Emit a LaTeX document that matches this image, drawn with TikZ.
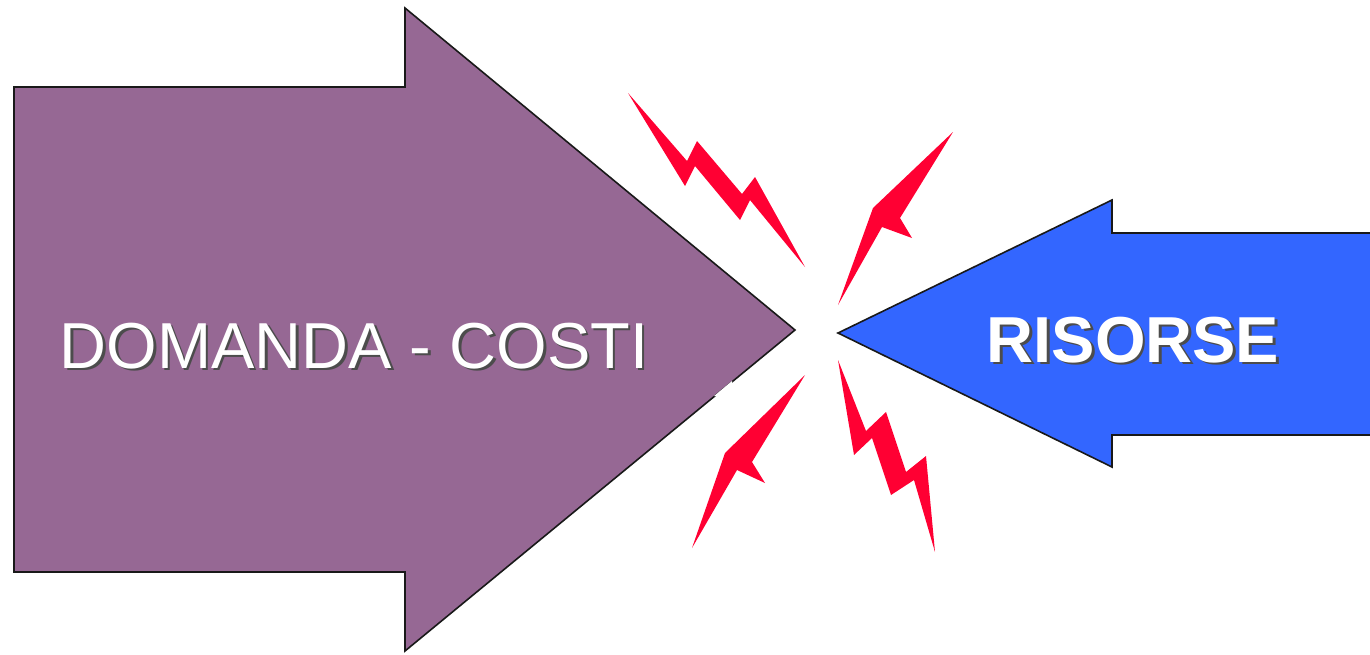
\documentclass[tikz,border=0pt]{standalone}
\usepackage{fontspec}
\setmainfont{Liberation Sans}
\usepackage{xcolor}
\definecolor{viola}{RGB}{150,104,148}
\definecolor{blu}{RGB}{51,102,255}
\definecolor{rosso}{RGB}{255,0,51}

\begin{document}
\begin{tikzpicture}[x=1pt,y=-1pt,
	freccia/.style={draw=black!90,line width=1.6pt,line join=miter},
	fulmine/.style={fill=rosso},
	ombra/.style={text=black!70,font=\fontsize{65}{70}\selectfont},
	scritta/.style={text=white,font=\fontsize{65}{70}\selectfont}]
\useasboundingbox (0,0) rectangle (1370,654);

	% Left arrow
\filldraw[freccia,fill=viola] (14,87) -- (405,87) -- (405,8) -- (795,330) -- (405,651) -- (405,572) -- (14,572) -- cycle;
\fill[white] (732,381) -- (732,396) -- (714,396) -- cycle;
\node[ombra] (domandaOmbra) at (356.5,348.5) {DOMANDA - COSTI};
\node[scritta] (domanda) at (354,346) {DOMANDA - COSTI};

	% Right arrow
\filldraw[freccia,fill=blu] (1380,233) -- (1112,233) -- (1112,200) -- (838,333) -- (1112,467) -- (1112,435) -- (1380,435) -- cycle;
\node[ombra] (risorseOmbra) at (1135.5,342.5) {\bfseries RISORSE};
\node[scritta] (risorse) at (1133,340) {\bfseries RISORSE};

	% Lightning bolts
\fill[fulmine] (628,93) -- (687,161) -- (697,141) -- (742,194) -- (755,177) -- (805,267) -- (750,200) -- (740,220) -- (695,166) -- (685,186) -- cycle;
\fill[fulmine] (953,132) -- (873,208) -- (838,305) -- (882,227) -- (912,238) -- (900,218) -- cycle;
\fill[fulmine] (805,375) -- (725,453) -- (692,548) -- (737,470) -- (765,483) -- (752,462) -- cycle;
\fill[fulmine] (838,360) -- (866,431) -- (886,412) -- (906,472) -- (926,456) -- (935,552) -- (914,480) -- (891,495) -- (872,438) -- (854,455) -- cycle;
\end{tikzpicture}
\end{document}
